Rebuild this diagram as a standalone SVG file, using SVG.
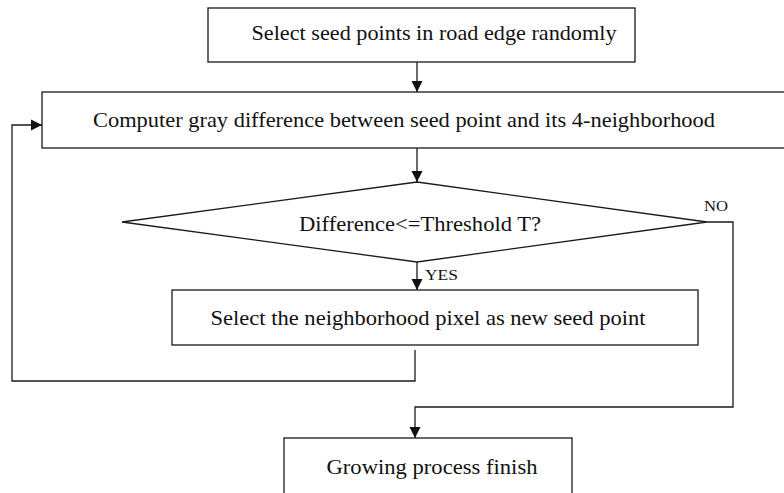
<svg xmlns="http://www.w3.org/2000/svg" width="784" height="493" viewBox="0 0 784 493">
<style>
.box{fill:#fff;stroke:#1a1a1a;stroke-width:1.3}
.t{font-family:"Liberation Serif","Times New Roman",serif;font-size:21px;fill:#111;text-anchor:middle}
.s{font-family:"Liberation Serif","Times New Roman",serif;font-size:14px;fill:#111}
.c{fill:none;stroke:#1a1a1a;stroke-width:1.3}
</style>
<defs>
<marker id="ah" markerWidth="11" markerHeight="12" refX="10" refY="5" orient="auto" markerUnits="userSpaceOnUse" viewBox="0 0 10 10">
<path d="M0,0 L10,5 L0,10 z" fill="#111"/>
</marker>
</defs>
<rect width="784" height="493" fill="#fff"/>
<g id="connectors">
<line class="c" x1="417" y1="62" x2="417" y2="92" marker-end="url(#ah)"/>
<line class="c" x1="417" y1="148" x2="417" y2="182" marker-end="url(#ah)"/>
<line class="c" x1="417" y1="262" x2="417" y2="290" marker-end="url(#ah)"/>
<polyline class="c" points="415,350 415,381 12,381 12,125 42,125" marker-end="url(#ah)"/>
<polyline class="c" points="707,222 733,222 733,407 415,407 415,438" marker-end="url(#ah)"/>
<text class="s" x="704" y="211" textLength="24" lengthAdjust="spacingAndGlyphs">NO</text>
<text class="s" x="425" y="280" textLength="33" lengthAdjust="spacingAndGlyphs">YES</text>
</g>
<g id="n1">
<rect class="box" x="208" y="8" width="427" height="54"/>
<text class="t" x="434" y="40" textLength="365" lengthAdjust="spacingAndGlyphs">Select seed points in road edge randomly</text>
</g>
<g id="n2">
<rect class="box" x="42" y="92" width="745" height="56"/>
<text class="t" x="404" y="127" textLength="622" lengthAdjust="spacingAndGlyphs">Computer gray difference between seed point and its 4-neighborhood</text>
</g>
<g id="n3">
<polygon class="box" points="417,182 707,222 417,262 122,222"/>
<text class="t" x="420" y="231" textLength="242" lengthAdjust="spacingAndGlyphs">Difference&lt;=Threshold T?</text>
</g>
<g id="n4">
<rect class="box" x="172" y="290" width="526" height="55"/>
<text class="t" x="428" y="325" textLength="435" lengthAdjust="spacingAndGlyphs">Select the neighborhood pixel as new seed point</text>
</g>
<g id="n5">
<rect class="box" x="284" y="438" width="288" height="60"/>
<text class="t" x="432" y="474" textLength="211" lengthAdjust="spacingAndGlyphs">Growing process finish</text>
</g>
</svg>
